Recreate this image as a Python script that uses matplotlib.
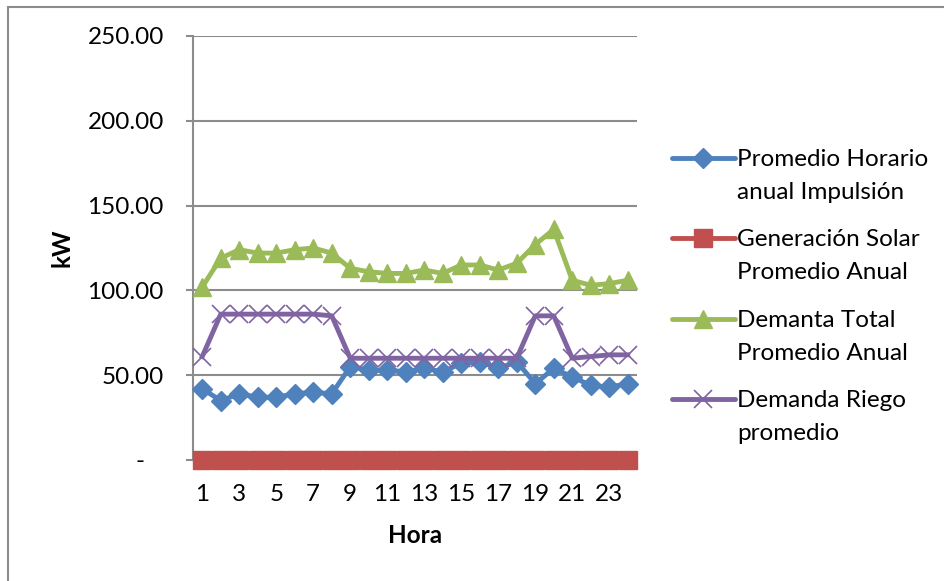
import numpy as np
import matplotlib.pyplot as plt
from matplotlib.lines import Line2D
from matplotlib.patches import Rectangle

plt.rcParams['font.family'] = ['Lato', 'DejaVu Sans']

# horas del dia y potencias promedio (kW)
horas = np.arange(1, 25)
impulsion = [42, 35, 39, 37, 37, 39, 40, 39, 55, 53, 53, 52,
             54, 52, 57, 58, 54, 58, 45, 54, 49, 44, 43, 45]
solar = [0] * 24
demanda_total = [102, 119, 124, 122, 122, 124, 125, 122, 113, 111, 110, 110,
                 112, 110, 115, 115, 112, 116, 127, 136, 106, 103, 104, 106]
demanda_riego = [61, 86, 86, 86, 86, 86, 86, 85, 60, 60, 60, 60,
                 60, 60, 60, 60, 60, 60, 85, 85, 60, 61, 62, 62]

nombres = ["Promedio Horario\nanual Impulsión",
           "Generación Solar\nPromedio Anual",
           "Demanta Total\nPromedio Anual",
           "Demanda Riego\npromedio"]
colores = ["#4F81BD", "#C0504D", "#9BBB59", "#8064A2"]
marcadores = [("D", 10, 1), ("s", 13.5, 1), ("^", 13, 1), ("x", 13, 1.2)]
series = [impulsion, solar, demanda_total, demanda_riego]

W, H = 945, 581
fs = 17.5
fig = plt.figure(figsize=(W / 100, H / 100), dpi=100)
ax = fig.add_axes([193 / W, 1 - 460 / H, 444 / W, 424 / H])

gris = "#8C8C8C"
for y in np.arange(50, 251, 50):
    ax.axhline(y, color=gris, lw=1.5, zorder=1)

for datos, color, (m, ms, mew) in zip(series, colores, marcadores):
    ax.plot(horas, datos, color=color, lw=3.5, marker=m, markersize=ms,
            markerfacecolor=color, markeredgecolor=color, markeredgewidth=mew,
            clip_on=False, zorder=3)

ax.set_xlim(0.5, 24.5)
ax.set_ylim(0, 250)
ax.set_yticks(np.arange(0, 251, 50))
ax.set_yticklabels(["-   "] + ["%.2f" % v for v in np.arange(50, 251, 50)])
ax.set_xticks(horas[::2])
ax.set_xticklabels([str(h) for h in horas[::2]])

for s in ["top", "right"]:
    ax.spines[s].set_visible(False)
for s in ["left", "bottom"]:
    ax.spines[s].set_color(gris)
    ax.spines[s].set_linewidth(1.5)
ax.tick_params(axis="y", length=5, width=1.5, color=gris, pad=16, labelsize=fs)
ax.tick_params(axis="x", length=0, pad=17, labelsize=fs)

ax.set_ylabel("kW", fontsize=fs, fontweight="bold", labelpad=10)
ax.set_xlabel("Hora", fontsize=fs, fontweight="bold", labelpad=14)

# leyenda a la derecha, con el simbolo alineado a la primera linea
for i, (nombre, color, (m, ms, mew)) in enumerate(zip(nombres, colores, marcadores)):
    yp = 1 - (158 + i * 80.3) / H
    fig.add_artist(Line2D([672 / W, 735 / W], [yp, yp], transform=fig.transFigure,
                          color=color, lw=3.5, solid_capstyle="round"))
    fig.add_artist(Line2D([703.5 / W], [yp], transform=fig.transFigure,
                          marker=m, markersize=ms, color=color,
                          markeredgewidth=mew, linestyle="none"))
    fig.text(737 / W, yp + 9 / H, nombre, fontsize=fs, va="top", ha="left",
             linespacing=1.7, transform=fig.transFigure)

# borde del area del grafico
fig.add_artist(Rectangle((8 / W, -0.1), 1.2, 1 - 7 / H + 0.1, transform=fig.transFigure,
                         fill=False, edgecolor=gris, lw=1.5))

fig.savefig("out.png", dpi=100)
